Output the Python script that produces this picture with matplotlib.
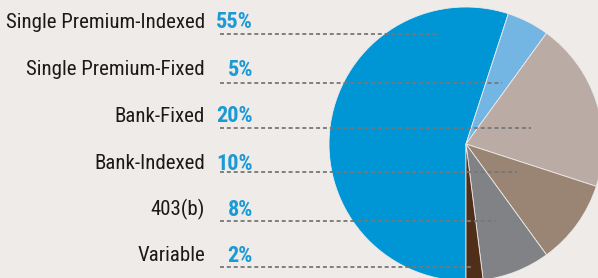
import matplotlib
matplotlib.use("Agg")
import matplotlib.pyplot as plt
from matplotlib import font_manager as fm

categories = ["Single Premium-Indexed", "Single Premium-Fixed", "Bank-Fixed",
              "Bank-Indexed", "403(b)", "Variable"]
shares = [55, 5, 20, 10, 8, 2]
pct_labels = ["55%", "5%", "20%", "10%", "8%", "2%"]
colors = ["#0096D6", "#74B6E3", "#BAACA5", "#9A8474", "#808285", "#4F2E1A"]

# font choice
def pick(fams):
    for f in fams:
        try:
            fm.findfont(fm.FontProperties(family=f), fallback_to_default=False)
            return f
        except Exception:
            pass
    return "DejaVu Sans"

narrow = pick(["Liberation Sans Narrow", "Roboto Condensed", "Liberation Sans"])

W, H = 598, 278
bg = "#EEEBE8"
fig = plt.figure(figsize=(W / 100, H / 100), dpi=100, facecolor=bg)

# pie axes: center (466,144) px, radius 137 px
cx, cy, r = 466, 144, 137
pax = fig.add_axes([(cx - r) / W, (H - cy - r) / H, 2 * r / W, 2 * r / H])
pax.set_facecolor("none")
pax.pie(shares, colors=colors, startangle=270, counterclock=False, radius=1,
        wedgeprops=dict(linewidth=0.6, edgecolor=bg))
pax.set_xlim(-1, 1)
pax.set_ylim(-1, 1)
pax.set_aspect("auto")
pax.axis("off")

# overlay axes in pixel coordinates
ax = fig.add_axes([0, 0, 1, 1], zorder=5)
ax.set_xlim(0, W)
ax.set_ylim(H, 0)
ax.axis("off")
ax.patch.set_alpha(0)

row_y = [22.5, 69.5, 116.5, 163.5, 209.5, 255.5]
line_y = [33.5, 83, 128, 172, 221, 267]
line_end = [437, 502, 531, 517, 496, 472]

for i, (cat, pl) in enumerate(zip(categories, pct_labels)):
    ax.text(205, row_y[i], cat, ha="right", va="center", fontsize=15,
            family=narrow, color="#1a1a1a")
    ax.text(253, row_y[i], pl, ha="right", va="center", fontsize=16,
            family=narrow, fontweight="bold", color="#1B9AD6")
    ax.plot([220, line_end[i]], [line_y[i], line_y[i]], color="#777777",
            lw=1.3, linestyle=(0, (2.2, 1.6)), solid_capstyle="butt")

fig.savefig("out.png", dpi=100, facecolor=bg)
